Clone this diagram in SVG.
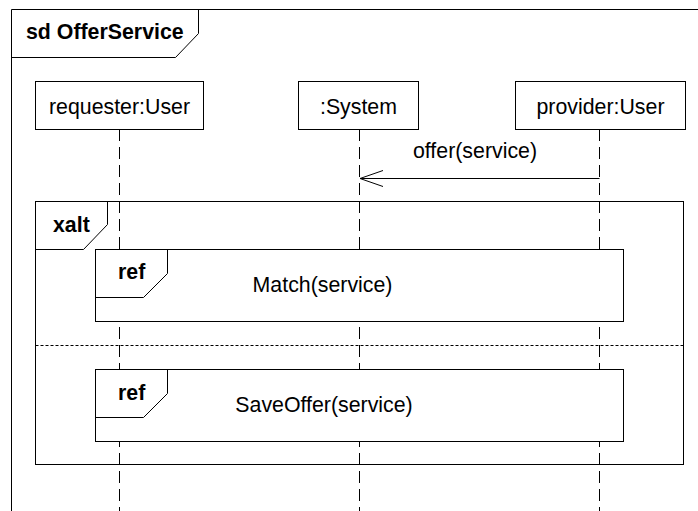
<svg xmlns="http://www.w3.org/2000/svg" width="698" height="511" viewBox="0 0 698 511">
  <style>
    .ln { fill: none; stroke: #000; stroke-width: 1; }
    .box { fill: #fff; stroke: #000; stroke-width: 1; }
    .life { fill: none; stroke: #000; stroke-width: 1; stroke-dasharray: 12 6; }
    .sep { fill: none; stroke: #000; stroke-width: 1; stroke-dasharray: 3 2; }
    .t { font-family: "Liberation Sans", Arial, sans-serif; font-size: 21.33px; fill: #000; }
    .b { font-weight: bold; }
    .c { text-anchor: middle; }
  </style>
  <defs>
    <marker id="open" markerWidth="26" markerHeight="20" refX="24" refY="9" orient="auto" markerUnits="userSpaceOnUse">
      <path d="M1,1 L24,9 L1,17" fill="none" stroke="#000" stroke-width="1"/>
    </marker>
  </defs>
  <rect width="698" height="511" fill="#fff"/>

  <g id="frame-sd">
    <path class="ln" d="M11.5,520 L11.5,9.5 L700,9.5"/>
    <path class="ln" d="M11.5,57.5 L175.5,57.5 L198.5,33.5 L198.5,9.5"/>
    <text class="t b" x="26" y="39">sd OfferService</text>
  </g>

  <g id="requester">
    <line class="life" x1="119.5" y1="129" x2="119.5" y2="511"/>
    <rect class="box" x="35.5" y="81.5" width="168" height="48"/>
    <text class="t c" x="119.5" y="114">requester:User</text>
  </g>

  <g id="system">
    <line class="life" x1="359.5" y1="129" x2="359.5" y2="511"/>
    <rect class="box" x="298.5" y="81.5" width="120" height="48"/>
    <text class="t c" x="358.5" y="114">:System</text>
  </g>

  <g id="provider">
    <line class="life" x1="599.5" y1="129" x2="599.5" y2="511"/>
    <rect class="box" x="515.5" y="81.5" width="170" height="48"/>
    <text class="t c" x="600.5" y="114">provider:User</text>
  </g>

  <g id="xalt">
    <rect class="ln" x="35.5" y="201.5" width="648" height="263"/>
    <path class="ln" d="M35.5,249.5 L83.5,249.5 L107.5,224.5 L107.5,201.5"/>
    <line class="sep" x1="35.5" y1="345.5" x2="683.5" y2="345.5"/>
    <text class="t b" x="53" y="232">xalt</text>
  </g>

  <g id="ref-match">
    <rect class="box" x="95.5" y="249.5" width="528" height="72"/>
    <path class="ln" d="M95.5,297.5 L143.5,297.5 L167.5,273.5 L167.5,249.5"/>
    <text class="t b" x="118" y="279">ref</text>
    <text class="t c" x="322.5" y="292">Match(service)</text>
  </g>

  <g id="ref-saveoffer">
    <rect class="box" x="95.5" y="369.5" width="528" height="72"/>
    <path class="ln" d="M95.5,417.5 L143.5,417.5 L167.5,393.5 L167.5,369.5"/>
    <text class="t b" x="118" y="400">ref</text>
    <text class="t c" x="324" y="412">SaveOffer(service)</text>
  </g>

  <g id="connectors">
    <line class="ln" x1="599.5" y1="178.5" x2="360" y2="178.5" marker-end="url(#open)"/>
    <text class="t c" x="475" y="158">offer(service)</text>
  </g>
</svg>
